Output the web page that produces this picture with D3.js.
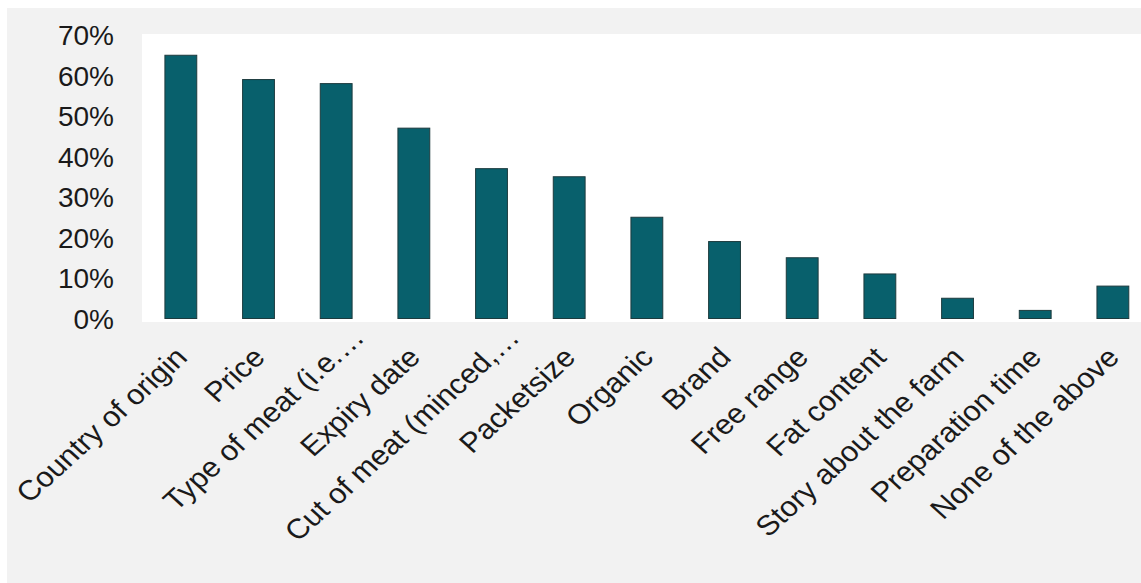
<!DOCTYPE html>
<html>
<head>
<meta charset="utf-8">
<script src="https://cdn.jsdelivr.net/npm/d3@7"></script>
<style>
  body { margin: 0; background: #fff; }
  text { font-family: "Liberation Sans", Arial, sans-serif; fill: #1a1a1a; }
</style>
</head>
<body>
<div class="canvas"></div>
<script>
// data
const categories = ['Country of origin', 'Price', 'Type of meat (i.e.\u2026', 'Expiry date',
  'Cut of meat (minced,\u2026', 'Packetsize', 'Organic', 'Brand', 'Free range', 'Fat content',
  'Story about the farm', 'Preparation time', 'None of the above'];
const shares = [0.65, 0.59, 0.58, 0.47, 0.37, 0.35, 0.25, 0.19, 0.15, 0.11, 0.05, 0.02, 0.08];
const yTicks = [0, 0.1, 0.2, 0.3, 0.4, 0.5, 0.6, 0.7];

const W = 1141, H = 583;
const plot = { left: 142, top: 34, right: 1141, bottom: 322 };
const stretch = 1.1; // rotated labels look slightly widened in the original
const ELL = '\u2026';

//------------------------Svg container
const svg = d3.select('.canvas')
  .append('svg')
  .attr('width', W)
  .attr('height', H);

// grey chart area + white plot area
svg.append('rect')
  .attr('x', 7).attr('y', 8)
  .attr('width', W - 7).attr('height', H - 8)
  .attr('fill', '#f2f2f2');

svg.append('rect')
  .attr('x', plot.left).attr('y', plot.top)
  .attr('width', plot.right - plot.left).attr('height', plot.bottom - plot.top)
  .attr('fill', '#ffffff');

//------------------------Scales
const step = 77.67;
const x = d3.scaleBand()
  .domain(categories)
  .range([plot.left, plot.left + step * categories.length])
  .paddingInner(0.59)
  .paddingOuter(0.295);

const y = d3.scaleLinear()
  .domain([0, 0.7])
  .range([318.5, 35]);

//------------------------Bars
svg.append('g')
  .selectAll('rect')
  .data(shares)
  .enter()
  .append('rect')
  .attr('x', (d, i) => x(categories[i]))
  .attr('y', d => y(d))
  .attr('width', x.bandwidth())
  .attr('height', d => y(0) - y(d))
  .attr('fill', '#08606c')
  .attr('stroke', '#1d3b3e')
  .attr('stroke-width', 1);

//------------------------Y axis labels (no line, no ticks)
svg.append('g')
  .selectAll('text')
  .data(yTicks)
  .enter()
  .append('text')
  .attr('x', 114)
  .attr('y', d => y(d))
  .attr('dy', '0.36em')
  .attr('text-anchor', 'end')
  .style('font-size', '28px')
  .text(d3.format('.0%'));

//------------------------X axis labels, rotated 45deg
// truncated labels: the ellipsis hangs past the anchor like in the original
const xLabels = svg.append('g')
  .selectAll('g')
  .data(categories)
  .enter()
  .append('g')
  .attr('transform', d => `translate(${x(d) + x.bandwidth() / 2 + 8}, 359) scale(${stretch},1) rotate(-45)`)
  .style('font-size', '28px');

xLabels.append('text')
  .attr('text-anchor', 'end')
  .text(d => d.endsWith(ELL) ? d.slice(0, -1) : d);

xLabels.filter(d => d.endsWith(ELL))
  .append('text')
  .attr('text-anchor', 'start')
  .text(ELL);
</script>
</body>
</html>
